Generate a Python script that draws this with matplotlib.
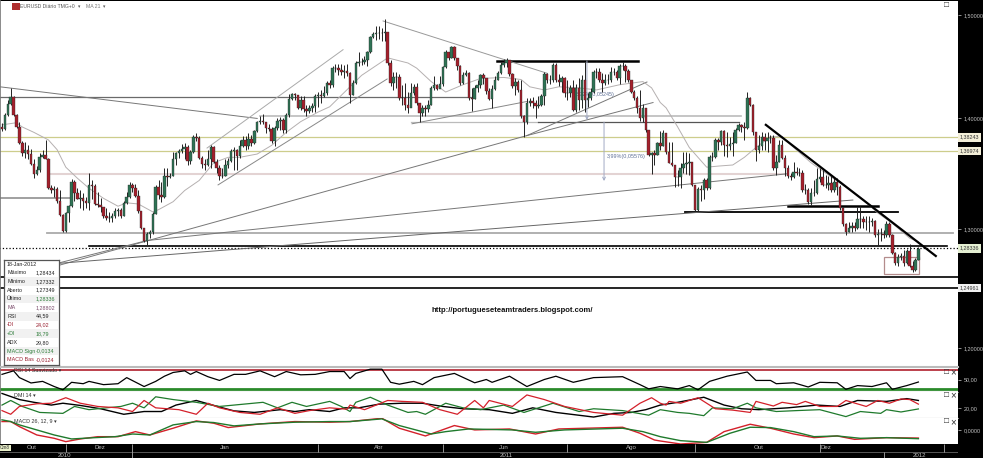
import matplotlib
matplotlib.use('Agg')
import matplotlib.pyplot as plt
from matplotlib.patches import Rectangle
from matplotlib.ticker import NullLocator
import numpy as np

plt.rcParams['font.family'] = ['Liberation Sans', 'DejaVu Sans']

W, H = 983, 458

# daily EURUSD bars, prices x 1000
closes = [1390,1403,1414,1420,1403,1392,1377,1368,1371,1367,1358,1349,1352,1364,1366,1362,1336,1334,1335,1325,1312,1298,1314,1320,1342,1332,1326,1327,1325,1323,1339,1338,1322,1321,1319,1311,1310,1310,1311,1316,1317,1311,1323,1328,1339,1336,1329,1316,1301,1290,1296,1297,1313,1337,1330,1328,1347,1346,1347,1362,1368,1370,1372,1373,1361,1369,1383,1382,1363,1358,1357,1362,1373,1360,1354,1347,1347,1357,1361,1370,1371,1365,1374,1380,1374,1381,1377,1388,1397,1398,1397,1391,1390,1379,1391,1398,1399,1389,1403,1418,1423,1422,1410,1417,1409,1407,1410,1412,1421,1422,1421,1424,1434,
          1432,1448,1448,1446,1444,1445,1443,1422,1434,1453,1454,1454,1456,1464,1479,1482,1483,1483,1483,1484,1453,1434,1439,1439,1419,1419,1413,1410,1424,1430,1415,1405,1410,1409,1413,1429,1432,1428,1433,1449,1464,1458,1469,1458,1450,1434,1441,1443,1419,1418,1429,1432,1441,1438,1426,1418,1428,1437,1443,1451,1453,1456,1442,1431,1435,1427,1402,1397,1415,1416,1415,1412,1413,1421,1442,1437,1437,1451,1437,1435,1438,1424,1424,1429,1408,1429,1417,1437,1417,1419,1425,1444,1444,1437,1434,1437,1437,1444,1444,1438,1450,1450,1445,1437,1425,1419,1410,1400,1410,1389,1366,1368,1366,1377,
          1374,1386,1369,1359,1357,1346,1346,1354,1358,1359,1360,1339,1317,1335,1334,1343,1336,1364,1364,1380,1378,1388,1375,1374,1376,1377,1389,1394,1392,1391,1419,1413,1387,1371,1374,1383,1379,1382,1382,1354,1360,1375,1363,1354,1347,1346,1351,1350,1350,1334,1334,1324,1332,1332,1344,1346,1339,1339,1341,1334,1342,1337,1318,1304,1297,1301,1303,1301,1309,1309,1306,1306,1306,1307,1295,1296,1296,1295,1304,1295,1279,1271,1276,1277,1271,1281,1268,1265,1273,1283]
highs = [1396,1405,1417,1429,1421,1404,1397,1379,1378,1375,1372,1362,1356,1368,1371,1380,1363,1339,1338,1337,1334,1313,1315,1321,1344,1343,1336,1334,1332,1328,1350,1343,1340,1333,1327,1319,1318,1315,1314,1318,1318,1318,1325,1333,1342,1341,1340,1334,1316,1301,1297,1299,1315,1339,1343,1342,1354,1354,1350,1369,1369,1372,1376,1377,1375,1371,1385,1386,1384,1365,1362,1371,1375,1374,1362,1357,1354,1362,1363,1372,1373,1372,1380,1384,1384,1386,1385,1389,1398,1402,1404,1397,1395,1392,1393,1400,1401,1400,1405,1423,1424,1424,1422,1421,1421,1413,1413,1415,1423,1425,1427,1431,1436,
         1437,1450,1452,1452,1452,1451,1452,1444,1437,1455,1464,1458,1460,1465,1480,1484,1489,1489,1487,1496,1484,1456,1444,1444,1442,1432,1434,1425,1434,1433,1434,1415,1413,1413,1417,1431,1440,1433,1440,1450,1466,1464,1470,1470,1458,1451,1444,1446,1444,1429,1432,1437,1442,1443,1438,1429,1432,1440,1445,1454,1457,1458,1456,1443,1438,1437,1437,1403,1419,1419,1420,1417,1421,1423,1444,1443,1441,1453,1453,1442,1440,1439,1437,1432,1437,1433,1438,1441,1454,1424,1429,1446,1448,1448,1443,1442,1442,1449,1448,1446,1452,1454,1452,1447,1437,1427,1421,1427,1414,1410,1389,1369,1371,1378,
         1388,1389,1378,1378,1378,1357,1352,1359,1369,1369,1368,1360,1337,1337,1339,1345,1345,1366,1369,1382,1382,1389,1389,1387,1383,1387,1391,1396,1395,1397,1425,1420,1414,1387,1385,1387,1386,1387,1385,1385,1366,1380,1380,1366,1357,1350,1360,1355,1354,1352,1340,1336,1336,1343,1354,1354,1352,1348,1347,1347,1345,1345,1339,1319,1305,1306,1306,1306,1319,1320,1311,1311,1311,1310,1308,1300,1301,1299,1307,1306,1296,1280,1278,1279,1282,1283,1287,1272,1275,1284]
lows = [1388,1389,1402,1413,1402,1391,1376,1365,1363,1362,1357,1345,1348,1351,1363,1362,1335,1332,1328,1323,1311,1297,1297,1306,1319,1325,1326,1318,1317,1318,1317,1326,1321,1319,1315,1310,1308,1306,1306,1310,1311,1310,1311,1322,1327,1333,1328,1314,1300,1289,1286,1292,1296,1313,1326,1324,1327,1338,1345,1347,1357,1363,1368,1362,1357,1358,1368,1379,1362,1354,1352,1356,1354,1359,1350,1343,1345,1347,1354,1360,1352,1352,1363,1373,1371,1372,1374,1376,1387,1395,1395,1386,1388,1377,1374,1389,1389,1386,1386,1401,1417,1417,1409,1408,1406,1402,1405,1406,1406,1411,1415,1420,1422,
        1429,1430,1444,1441,1441,1438,1440,1415,1422,1433,1450,1451,1452,1450,1463,1478,1476,1477,1475,1475,1451,1431,1427,1429,1417,1413,1408,1405,1413,1422,1413,1397,1402,1402,1406,1413,1427,1427,1431,1431,1448,1456,1458,1456,1446,1432,1433,1440,1417,1407,1418,1425,1429,1433,1423,1417,1410,1427,1437,1442,1449,1449,1440,1429,1422,1425,1400,1383,1395,1412,1410,1400,1410,1412,1413,1434,1433,1435,1435,1431,1425,1420,1417,1420,1407,1406,1408,1410,1406,1411,1417,1424,1438,1435,1425,1432,1433,1435,1441,1437,1433,1446,1435,1435,1424,1417,1405,1398,1397,1387,1365,1349,1357,1366,
        1371,1374,1367,1359,1356,1337,1338,1336,1350,1349,1348,1338,1316,1316,1325,1326,1334,1335,1361,1363,1371,1375,1365,1364,1371,1365,1377,1388,1387,1380,1390,1412,1385,1361,1368,1371,1371,1369,1377,1352,1348,1360,1362,1347,1345,1343,1345,1348,1347,1333,1331,1322,1321,1329,1331,1342,1338,1336,1334,1333,1333,1330,1317,1303,1295,1297,1297,1298,1300,1301,1301,1299,1297,1303,1293,1286,1290,1292,1293,1293,1278,1269,1268,1273,1268,1270,1267,1263,1264,1273]
assert len(closes) == len(highs) == len(lows), (len(closes), len(highs), len(lows))

ma_bars = [0,5,7,11,16,19,22,26,30,35,40,43,47,52,54,59,63,68,73,78,82,88,93,98,103,109,113,124,133,140,143,148,153,159,165,173,179,182,187,192,199,205,213,221,224,227,229,233,237,243,247,252,256,260,265,269,273,279,286,291,297,302,307,313,316]
ma_vals = [1394,1396,1392,1387,1380,1371,1355,1345,1336,1327,1320,1323,1322,1315,1317,1324,1334,1343,1359,1364,1364,1367,1375,1387,1397,1406,1411,1441,1458,1453,1448,1435,1425,1432,1438,1439,1437,1430,1427,1430,1429,1427,1432,1435,1429,1415,1410,1392,1373,1355,1356,1357,1364,1373,1383,1383,1373,1359,1346,1337,1326,1314,1305,1292,1289]

rsi_bars = [0,4,6,10,14,18,21,24,28,30,35,40,43,49,53,56,59,63,65,67,71,75,80,84,89,94,98,103,108,113,118,120,122,127,131,134,137,142,145,149,156,163,167,169,175,181,187,191,197,204,214,220,223,227,233,237,240,244,250,257,260,265,267,273,278,282,288,291,295,300,305,307,312,316]
rsi_vals = [61,68.5,54,42.6,46,35,28,44,41,46,39,41,54,35,46,57,65,68.5,61,67,56,48,61,61,68.5,56,67,60,61,67,67,52,63,72,72,44,40,46,39,54,63,43,50,44,57,35,50,57,44,54,56,39,30,35,30,37,28,46,57,66,48,48,41,43,34,44,43,29,37,35,43,29,37,44.6]

adx_bars = [0,6,11,17,21,27,34,42,49,55,60,67,73,80,87,96,101,106,113,118,123,130,138,145,152,159,168,176,183,191,204,211,217,222,227,233,238,242,249,255,261,271,281,289,295,305,312,316]
adx_vals = [35.6,29,26,23,25,22.6,19,13,16,16,23,28,22.6,16.7,15,18,16,18,16,20,20,24,25,25,21.5,19,18,14,20,15,10,14,15,18,23,26,29,31.5,23,19,18,20,23,21.5,28,27,30,28]
pdi_bars = [0,3,7,13,21,25,30,36,41,45,49,53,59,67,75,80,90,95,100,105,113,117,120,122,127,133,140,143,146,153,159,165,173,180,190,199,204,214,223,227,233,237,242,245,252,257,260,267,274,282,291,296,303,305,310,316]
pdi_vals = [23,28,21.5,15,14,21.5,18,20,21.5,25,20,32,29,26,21.5,23,26,20,26,21.5,27,21.5,16,26,31.5,23,15,16,13,25,20,18,23,15,25,16,19,17,12,18,15,14,11.5,20,19,25,20,16,17,18,10.5,16,14,18,15.5,18.79]
mdi_bars = [0,3,6,12,17,22,27,33,40,45,49,53,61,67,71,75,82,89,95,101,106,113,119,120,125,133,138,145,151,157,163,166,168,176,181,187,194,204,214,220,224,227,229,230,234,240,246,252,258,260,266,269,274,277,282,288,291,298,302,306,310,313,316]
mdi_vals = [17,13,21.5,24.4,25,31,25,21.5,20,16,28,20,18,13,25,20,15,13,20,14,17,20,18.5,23,18,28,27,26,18,13,28,20,28,21.5,34,29,21.5,15,12,25,31,25,23,27,25,31,19,17.5,15,27,22,26,23.5,27,21.5,21.5,28,21.5,28,25,29.6,29,24.02]

sign_bars = [0,3,6,12,18,24,32,39,45,51,59,67,73,80,89,101,113,120,131,137,148,153,161,176,184,194,214,221,227,234,243,251,258,265,273,280,288,296,305,316]
sign_vals = [.0154,.0128,.0077,0,-.0077,-.0138,-.0118,-.0103,-.0062,-.0077,.0077,.0128,.0113,.0062,.0092,.0118,.0128,.0128,.0169,.0067,-.0062,-.0026,.0015,0,-.0036,0,.0026,-.0026,-.0103,-.0164,-.0190,-.0051,.0041,.0036,-.0026,-.0103,-.0092,-.0128,-.0118,-.0134]
base_bars = [0,3,6,12,18,22,27,33,40,46,51,59,67,73,78,89,101,113,120,131,137,146,156,163,175,184,192,214,220,225,227,234,243,249,258,265,273,280,288,294,305,316]
base_vals = [.0128,.0128,.0051,-.0077,-.0128,-.0179,-.0138,-.0103,-.0103,-.0026,-.0077,.0026,.0138,.0103,.0036,.0092,.0128,.0118,.0128,.0179,.0026,-.0092,.0067,0,.0015,-.0062,.0015,.0041,-.0051,-.0154,-.0169,-.0215,-.0190,-.0026,.0087,.0026,-.0062,-.0118,-.0092,-.0144,-.0118,-.0124]

# horizontal levels: price, first bar, last bar, colour, width, style
levels = [
    (1.4205, -1, 162, '#6a6a6a', 0.9, '-'),
    (1.4025, 89, 255, '#bbbbbb', 1.2, '-'),
    (1.3966, 141, 185, '#bbbbbb', 0.9, '-'),
    (1.3966, 185, 254, '#555555', 0.9, '-'),
    (1.38243, -1, 330, '#cdcd8c', 0.9, '-'),
    (1.36974, -1, 330, '#cdcd8c', 0.9, '-'),
    (1.3490, 17, 270, '#e3d3d3', 1.5, '-'),
    (1.3275, -1, 24, '#999999', 1.3, '-'),
    (1.2965, 15.5, 328, '#aaaaaa', 1.3, '-'),
    (1.2855, 30, 326, 'black', 1.2, '-'),
    (1.28336, -1, 330, 'black', 0.9, ':'),
    (1.2588, -1, 330, 'black', 1.2, '-'),
    (1.24961, -1, 330, 'black', 1.2, '-'),
    (1.4550, 170.7, 219.3, 'black', 1.8, '-'),
    (1.3200, 271, 302, 'black', 1.8, '-'),
    (1.3150, 235.5, 309, 'black', 1.3, '-'),
]
# trend lines: bar, price, bar, price, colour, width
trends = [
    (263.4, 1.394, 322, 1.2767, 'black', 1.6),
    (-0.7, 1.430, 88, 1.400, '#777777', 0.7),
    (70.7, 1.3725, 117.6, 1.466, '#aaaaaa', 0.7),
    (74.5, 1.339, 132.8, 1.4375, '#888888', 0.7),
    (131.4, 1.4945, 188, 1.443, '#999999', 0.7),
    (141.4, 1.395, 181, 1.416, '#888888', 0.7),
    (20, 1.269, 181, 1.384, '#777777', 0.7),
    (181, 1.384, 222.4, 1.4346, '#777777', 0.7),
    (181, 1.384, 224.5, 1.415, '#777777', 0.7),
    (20, 1.271, 50, 1.290, '#777777', 0.7),
    (50, 1.290, 270.7, 1.349, '#777777', 0.7),
    (20, 1.2705, 293.4, 1.3255, '#666666', 0.7),
]

price_ticks = [1.5, 1.4, 1.3, 1.2]
price_labels = ['1,50000', '1,40000', '1,30000', '1,20000']
tagged = [(1.38243, '1,38243', '#f3efd8'), (1.36974, '1,36974', '#f3efd8'),
          (1.28336, '1,28336', '#e4efd2'), (1.24961, '1,24961', '#f0f0f0')]

month_names = ['Out', 'Dez', 'Jan', 'Abr', 'Jun', 'Ago', 'Out', 'Dez']
month_at = [10.4, 33.8, 77, 130, 173, 217, 261, 284]
month_breaks = [22, 45, 109, 152, 195, 239, 282, 325]
year_names = ['2010', '2011', '2012']
year_at = [21.7, 174, 316.5]
year_breaks = [45, 304]

info_labels = ['18-Jan-2012', 'Máximo', 'Mínimo', 'Aberto', 'Último', 'MA', 'RSI', '-DI', '+DI', 'ADX', 'MACD Sign', 'MACD Bas']
info_values = ['', '1,28434', '1,27332', '1,27349', '1,28336', '1,28802', '44,59', '24,02', '18,79', '29,80', '-0,0134', '-0,0124']
info_colors = ['#222222', '#222222', '#222222', '#222222', '#2f7d3a', '#7a4a6a', '#222222', '#9a2030', '#2f7d3a', '#222222', '#2f7d3a', '#9a2030']

C = np.array(closes) / 1000
HI = np.array(highs) / 1000
LO = np.array(lows) / 1000
O = np.r_[1.392, C[:-1]]  # each day opens about where the last closed
bars = np.arange(len(C))
GREEN, RED = '#2f7355', '#a5202c'
SMALL = 3.9


def px_axes(left, top, right, bottom, **kw):
    return fig.add_axes([left / W, 1 - bottom / H, (right - left) / W, (bottom - top) / H], **kw)


def price_at(y):
    return 1.5 * np.exp(-(y - 15.5) / 1492)


fig = plt.figure(figsize=(W / 100, H / 100), dpi=100, facecolor='black')
ax = px_axes(0, 1, 958, 367, facecolor='white')
rsi = px_axes(0, 367, 958, 392, facecolor='white', sharex=ax)
dmi = px_axes(0, 392, 958, 417.5, facecolor='white', sharex=ax)
macd = px_axes(0, 417.5, 958, 444, facecolor='white', sharex=ax)
time_ax = px_axes(0, 444, 958, 458, facecolor='black', sharex=ax)

xlim = (-0.69, 329.66)
ax.set_yscale('log')
ax.set_xlim(*xlim)
ax.set_ylim(price_at(367), price_at(1))

for a in (ax, rsi, dmi, macd):
    for side in ('top', 'bottom', 'right'):
        a.spines[side].set_visible(False)
    a.spines['left'].set_color('#777777')
    a.spines['left'].set_linewidth(1.2)
    a.tick_params(axis='x', length=0, labelbottom=False)
    a.yaxis.tick_right()
    a.tick_params(axis='y', length=2, width=0.5, color='#cccccc', labelcolor='#c4c4c4', labelsize=SMALL, pad=2)

# levels and trend lines
for price, b0, b1, col, lw, ls in levels:
    ax.plot([b0, b1], [price, price], color=col, lw=lw, ls=ls, zorder=2)
for b0, p0, b1, p1, col, lw in trends:
    ax.plot([b0, b1], [p0, p1], color=col, lw=lw, zorder=2 if col != 'black' else 5)
ax.add_patch(Rectangle((304, 1.2614), 12.2, 1.276 - 1.2614, fill=False, ec='#b48c8c', lw=0.9, zorder=2))
ax.plot(ma_bars, np.array(ma_vals) / 1000, color='#b5b0b0', lw=0.7, zorder=2.5)

# measured moves
for b, p0, p1 in [(207.6, 1.3966, 1.3425), (201.7, 1.455, 1.3985)]:
    ax.annotate('', xy=(b, p1), xytext=(b, p0), zorder=2.2,
                arrowprops=dict(arrowstyle='->', color='#a2aac4', lw=0.7, mutation_scale=5, shrinkA=0, shrinkB=0))
ax.text(208.6, 1.365, '3,99%(0,05576)', fontsize=SMALL, color='#5f7096', va='center', zorder=2.4)
ax.text(198, 1.423, '3,72%(0,05245)', fontsize=SMALL, color='#5f7096', va='center', zorder=2.4)

# candles
ax.vlines(bars, LO, HI, color='#222222', lw=0.7, zorder=3)
body_col = [GREEN if c >= o else RED for c, o in zip(C, O)]
ax.bar(bars, np.abs(C - O), bottom=np.minimum(C, O), width=0.88, color=body_col,
       edgecolor='#222222', linewidth=0.25, zorder=4)

# price scale
ax.yaxis.set_major_locator(plt.FixedLocator(price_ticks))
ax.yaxis.set_minor_locator(NullLocator())
ax.set_yticklabels(price_labels)
trans = ax.get_yaxis_transform()
for price, label, bg in tagged:
    ax.text(1.0015, price, label, transform=trans, fontsize=SMALL, color='#333333', va='center', ha='left',
            bbox=dict(boxstyle='square,pad=0.35', fc=bg, ec='none'), zorder=8, clip_on=False)

# header
ax.add_patch(Rectangle((0.0125, 0.976), 0.008, 0.019, transform=ax.transAxes, fc='#b03030', ec='none', zorder=6))
ax.text(0.0212, 0.9855, 'EURUSD Diário TMG+0', transform=ax.transAxes, fontsize=3.7, color='#555555', va='center')
ax.text(0.0815, 0.9855, '▾', transform=ax.transAxes, fontsize=3.4, color='#555555', va='center')
ax.text(0.0895, 0.9855, 'MA 21', transform=ax.transAxes, fontsize=3.7, color='#777777', va='center')
ax.text(0.1075, 0.9855, '▾', transform=ax.transAxes, fontsize=3.4, color='#555555', va='center')
ax.text(0.9875, 0.9885, '□', transform=ax.transAxes, fontsize=6, color='#333333', va='center', ha='center')

ax.text(176, price_at(310), 'http://portugueseteamtraders.blogspot.com/', fontsize=5.5, fontweight='bold',
        color='#111111', ha='center', va='center', zorder=7)

# RSI
rsi.set_ylim(23.3, 76.7)
rsi.axhline(70, color='#b0202e', lw=1.2)
rsi.axhline(30, color='#2a8a2a', lw=2)
rsi.plot(rsi_bars, rsi_vals, color='black', lw=0.9, zorder=3)
rsi.set_yticks([50])
rsi.set_yticklabels(['50,00'])
rsi.spines['top'].set_visible(True)
rsi.spines['top'].set_color('#bbbbbb')
rsi.spines['top'].set_linewidth(1.5)
rsi.spines['bottom'].set_visible(True)
rsi.spines['bottom'].set_color('#666666')
rsi.text(4, 70, 'RSI 14 Suavizado ▾', fontsize=SMALL, color='#333333', va='center', zorder=6)

# DMI
dmi.set_ylim(9.5, 37.2)
dmi.plot(adx_bars, adx_vals, color='black', lw=1, zorder=3)
dmi.plot(pdi_bars, pdi_vals, color='#1f7a2c', lw=0.9, zorder=4)
dmi.plot(mdi_bars, mdi_vals, color='#d4202a', lw=0.9, zorder=5)
dmi.set_yticks([20])
dmi.set_yticklabels(['20,00'])
dmi.spines['bottom'].set_visible(True)
dmi.spines['bottom'].set_color('#888888')
dmi.text(4, 33, 'DMI 14 ▾', fontsize=SMALL, color='#333333', va='center', zorder=6)

# MACD
macd.set_ylim(-0.0215, 0.0190)
macd.plot(base_bars, base_vals, color='#d4202a', lw=1, zorder=3)
macd.plot(sign_bars, sign_vals, color='#1f7a2c', lw=1, zorder=4)
macd.set_yticks([0])
macd.set_yticklabels(['0,0000'])
macd.text(4, 0.0135, 'MACD 26, 12, 9 ▾', fontsize=SMALL, color='#333333', va='center', zorder=6)

for a, frac in [(rsi, 0.8), (dmi, 0.86), (macd, 0.84)]:
    a.text(0.9875, frac, '□', transform=a.transAxes, fontsize=6, color='#333333', va='center', ha='center')
    a.text(0.9945, frac, '×', transform=a.transAxes, fontsize=7, color='#333333', va='center', ha='center')

# time scale
time_ax.set_ylim(0, 1)
time_ax.set_yticks([])
for side in time_ax.spines:
    time_ax.spines[side].set_visible(False)
time_ax.tick_params(axis='x', length=0, labelbottom=False)
time_ax.axhline(0.43, color='#666666', lw=0.6)
time_ax.vlines(month_breaks, 0.43, 1, color='#cccccc', lw=0.5)
time_ax.vlines(year_breaks, 0, 0.43, color='#cccccc', lw=0.5)
for b, name in zip(month_at, month_names):
    time_ax.text(b, 0.72, name, fontsize=4.4, color='#bbbbbb', ha='center', va='center')
for b, name in zip(year_at, year_names):
    time_ax.text(b, 0.2, name, fontsize=4.4, color='#bbbbbb', ha='center', va='center')
time_ax.text(1.0, 0.73, 'Cm8', fontsize=3.4, color='#333333', ha='center', va='center',
             bbox=dict(boxstyle='square,pad=0.15', fc='#e8efc8', ec='none'))

# readout box over the main panel
box = px_axes(4, 259.5, 59, 364.5, facecolor='white', zorder=10)
box.set_xlim(0, 55)
box.set_ylim(105, 0)
box.set_xticks([])
box.set_yticks([])
for side in box.spines:
    box.spines[side].set_color('#555555')
    box.spines[side].set_linewidth(0.9)
for k, (lab, val, col) in enumerate(zip(info_labels, info_values, info_colors)):
    row_y = 4.5 + 8.7 * k
    if k % 2 == 0 and k > 0:
        box.add_patch(Rectangle((1, row_y - 4.3), 53, 8.6, fc='#f1f1f1', ec='none', zorder=0))
    lab_col = col if lab in ('MA', '-DI', '+DI', 'MACD Sign', 'MACD Bas') else '#222222'
    box.text(3, row_y, lab, fontsize=SMALL, color=lab_col, va='center')
    if val:
        box.text(32, row_y, val, fontsize=SMALL, color=col, va='center')

fig.savefig('out.png', dpi=100, facecolor=fig.get_facecolor())
